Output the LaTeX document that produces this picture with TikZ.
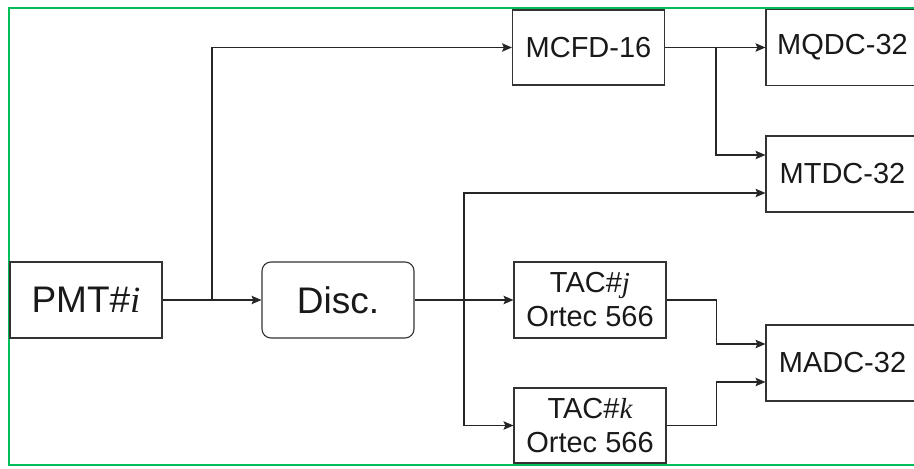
\documentclass[tikz,border=0pt]{standalone}
\usepackage{fontspec}
\setmainfont{Liberation Sans}
\newfontfamily\varfont{Liberation Serif}
\usetikzlibrary{arrows.meta}
\newcommand{\var}[1]{{\varfont\itshape #1}}

\tikzset{
  blk/.style={draw=black!80,line width=1.1pt,minimum width=152pt,minimum height=76pt,inner sep=0pt,text=black!90,align=center,font=\fontsize{29}{34}\selectfont},
  big/.style={font=\fontsize{37}{40}\selectfont},
  arr/.style={draw=black!85,line width=1.1pt,-{Stealth[length=10pt,width=8.5pt,inset=2pt]}},
}

\begin{document}
\begin{tikzpicture}[x=1pt,y=-1pt]
  \useasboundingbox (0,0) rectangle (914,469);
  \clip (0,0) rectangle (914,469);
  % frame
  \draw[draw={rgb,255:red,0;green,190;blue,90},line width=1.6pt] (9,8) rectangle (940,465);
  % boxes
  \node[blk,big] (pmt) at (86,300) {PMT\#\var{i}};
  \node[blk,big,rounded corners=9pt] (disc) at (338,300) {Disc.};
  \node[blk,minimum height=75pt] (mcfd) at (588.5,47.5) {MCFD-16};
  \node[blk] (tacj) at (590,300) {TAC\#\var{j}\\Ortec 566};
  \node[blk,minimum height=75pt] (tack) at (590,425.5) {TAC\#\var{k}\\Ortec 566};
  \foreach \n/\t/\y in {mqdc/MQDC-32/47.5,mtdc/MTDC-32/174,madc/MADC-32/363}
    \node[blk,minimum width=153pt] (\n) at (842.5,\y) {\t};
  \coordinate (j1) at (212,300); \coordinate (j2) at (716,47.5); \coordinate (j3) at (464,300);
  % connectors
  \draw[arr] (pmt) -- (disc);
  \draw[arr] (j1) |- (mcfd);
  \draw[arr] (mcfd) -- (mqdc);
  \draw[arr] (j2) |- ([yshift=19pt]mtdc.west);
  \draw[arr] (disc) -- (tacj);
  \draw[arr] (j3) |- ([yshift=-19pt]mtdc.west);
  \draw[arr] (j3) |- (tack);
  \draw[arr] (tacj.east) -- ++(50,0) |- ([yshift=19pt]madc.west);
  \draw[arr] (tack.east) -- ++(50,0) |- ([yshift=-19pt]madc.west);
\end{tikzpicture}
\end{document}
